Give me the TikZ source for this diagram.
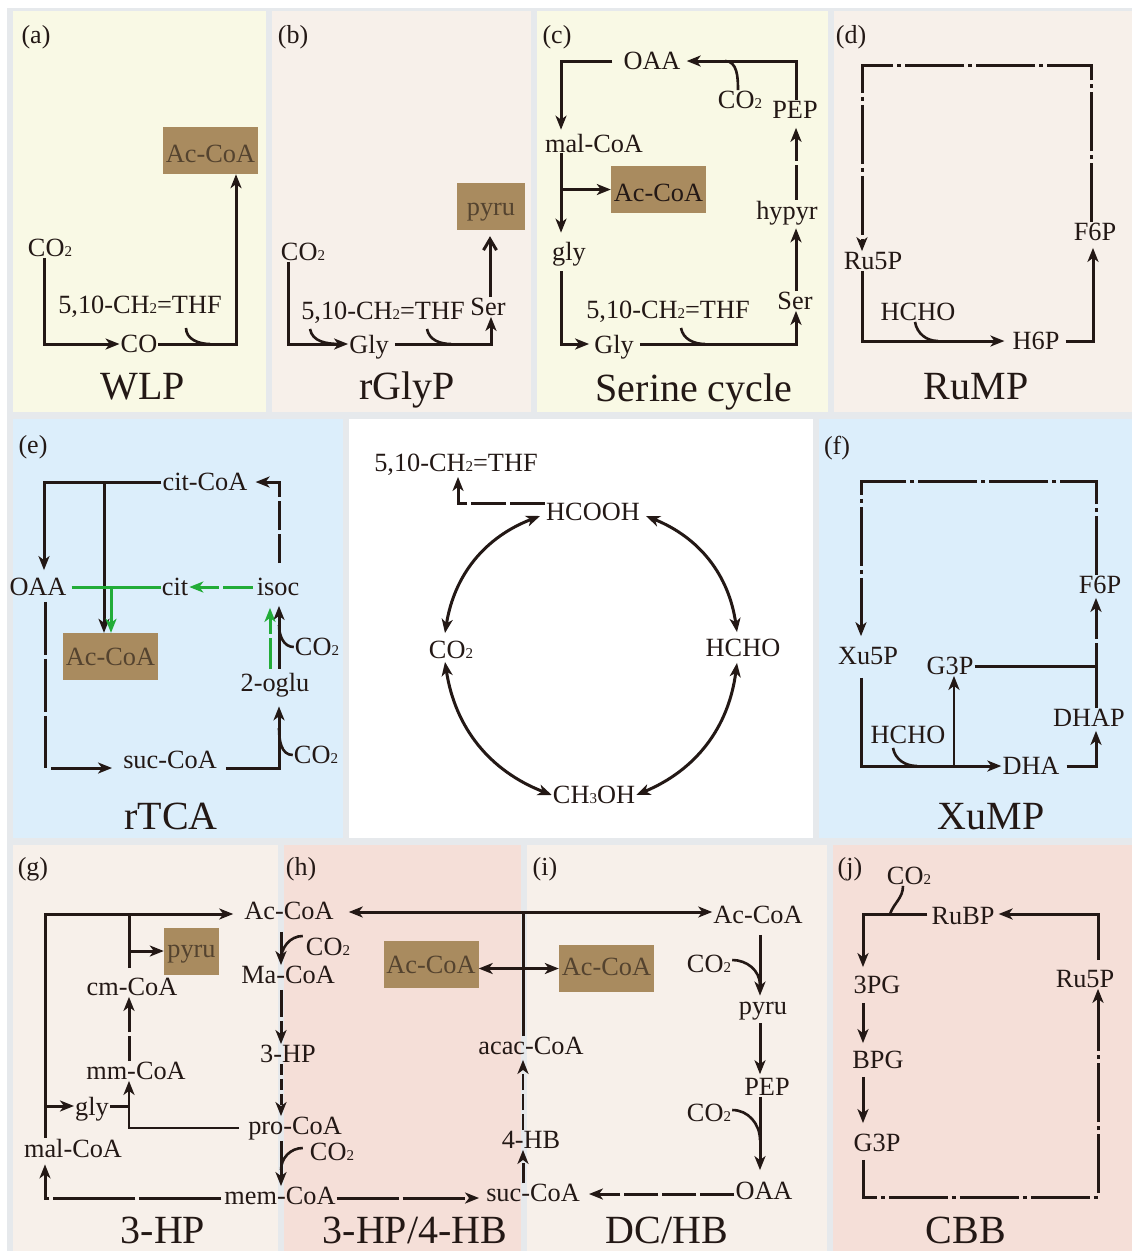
\documentclass[tikz,border=0pt]{standalone}
\usepackage{fontspec}
\setmainfont{Liberation Serif}
\usetikzlibrary{arrows.meta}
\definecolor{ink}{HTML}{231815}
\definecolor{framegrey}{HTML}{E6E9EC}
\definecolor{paleyellow}{HTML}{F9F9E5}
\definecolor{palecream}{HTML}{F7F0EA}
\definecolor{paleblue}{HTML}{DCEEFB}
\definecolor{palerose}{HTML}{F5DFD8}
\definecolor{boxtan}{HTML}{A98B5F}
\definecolor{boxtext}{HTML}{54432F}
\definecolor{greenflow}{HTML}{22AC38}
\newcommand{\subn}[1]{{\fontsize{15}{15}\selectfont #1}}
\tikzset{
	met/.style={inner sep=1pt, text=ink, text depth=0pt, font=\fontsize{26.3}{26.3}\selectfont},
	prod/.style={met, fill=boxtan, text=boxtext, text height=23pt, minimum width=95pt, minimum height=47pt},
	ttl/.style={inner sep=0pt, text=ink, text depth=0pt, font=\fontsize{40}{40}\selectfont},
	tag/.style={inner sep=0pt, text=ink, font=\fontsize{26}{26}\selectfont},
	flow/.style={draw=ink, line width=3pt},
	flowa/.style={flow, ->},
	flowb/.style={flow, <->},
	feed/.style={draw=ink, line width=2.6pt},
	thinflow/.style={flow, line width=2.4pt, ->},
	greena/.style={draw=greenflow, line width=3pt, ->},
	brk/.style={dash pattern=on #1pt off 4pt},
	dotbrk/.style={dash pattern=on 59pt off 4pt on 4pt off 4pt}
}
\begin{document}
\begin{tikzpicture}[
		x=1pt,
		y=-1pt,
		>={Stealth[length=14pt,width=11pt,inset=4pt]}
	]
	\useasboundingbox (0,0) rectangle (1132,1251);

	% ---- panels ----------------------------------------------------
	\fill[framegrey] (7,8) rectangle (1132,1251);
	\foreach \xa/\ya/\xb/\yb/\c in {13/11/266/412/paleyellow,272/11/531/412/palecream,537/11/828/412/paleyellow,834/11/1132/412/palecream,13/419/343/838/paleblue,349/419/813/838/white,819/419/1132/838/paleblue,13/845/278/1251/palecream,284/845/521/1251/palerose,527/845/827/1251/palecream,833/845/1132/1251/palerose} {
			\fill[\c] (\xa,\ya) rectangle (\xb,\yb);
		}
	\foreach \x/\y/\t in {36/37/a,293/37/b,557/37/c,851/37/d,33/447/e,837/448/f,33/869/g,301/869/h,545/869/i,850/869/j} {
			\node[tag] (tag\t) at (\x,\y) {(\t)};
		}
	\foreach \x/\y/\n/\t in {143/386/wlp/WLP,407/386/rgly/rGlyP,694/388/ser/Serine cycle,976/386/rump/RuMP,171/816/rtca/rTCA,991/816/xump/XuMP,163/1230/hp/3-HP,415/1230/hphb/{3-HP/4-HB},667/1230/dchb/{DC/HB},966/1230/cbb/CBB} {
			\node[ttl] (ttl\n) at (\x,\y) {\t};
		}

	% ---- (a) WLP ---------------------------------------------------
	\node[prod] (boxa) at (210.5,150.5) {Ac-CoA};
	\node[met] (co2a) at (50,248) {CO\subn{2}};
	\node[met] (thfa) at (140,305) {5,10-CH\subn{2}=THF};
	\node[met] (coa) at (139,344) {CO};
	\coordinate (a1) at (210,344);
	\draw[flowa] ([xshift=-6pt]co2a.south) |- (coa.west);
	\draw[flowa] (coa.east) -| ([xshift=25.5pt]boxa.south);
	\draw[feed] ([shift={(46pt,-13pt)}]thfa.south) to[out=-90,in=180] (a1);

	% ---- (b) rGlyP -------------------------------------------------
	\node[prod, minimum width=68pt, text height=18pt] (boxb) at (491,206.5) {pyru};
	\node[met] (co2b) at (303,252) {CO\subn{2}};
	\node[met] (thfb) at (383,311) {5,10-CH\subn{2}=THF};
	\node[met] (glyb) at (369,344) {Gly};
	\node[met] (serb) at (488,307) {Ser};
	\coordinate (b1) at (340,344);
	\coordinate (b2) at (451,344);
	\draw[flowa] ([xshift=-15pt]co2b.south) |- (glyb.west);
	\draw[flowa] ([xshift=5pt]glyb.east) -| ([xshift=3pt]serb.south);
	\draw[flow, -{Straight Barb[length=11pt,width=13pt]}] ([xshift=2pt]serb.north) -- ([shift={(-1pt,-6pt)}]boxb.south);
	\draw[feed] ([shift={(-73pt,-8pt)}]thfb.south) to[out=-80,in=180] (b1);
	\draw[feed] ([shift={(44pt,-8pt)}]thfb.south) to[out=-80,in=180] (b2);

	% ---- (c) Serine cycle ------------------------------------------
	\node[prod, text=ink] (boxc) at (658.5,189.5) {Ac-CoA};
	\node[met] (oaac) at (652,61) {OAA};
	\node[met] (malc) at (594,143) {mal-CoA};
	\node[met] (glyc) at (569,251) {gly};
	\node[met] (gly2c) at (614,344) {Gly};
	\node[met] (thfc) at (668,310) {5,10-CH\subn{2}=THF};
	\node[met] (serc) at (795,301) {Ser};
	\node[met] (hypc) at (787,210) {hypyr};
	\node[met] (pepc) at (795,110) {PEP};
	\node[met] (co2c) at (740,100) {CO\subn{2}};
	\coordinate (c1) at (561,189.5);
	\coordinate (c2) at (725,61);
	\coordinate (c3) at (705,344);
	\draw[flowa] ([xshift=-10pt]oaac.west) -| ([shift={(-33pt,3pt)}]malc.north);
	\draw[flowa] ([xshift=-33pt]malc.south) -- ([shift={(-8pt,8pt)}]glyc.north);
	\draw[flowa] (c1) -- (boxc.west);
	\draw[flowa] ([shift={(-8pt,-10pt)}]glyc.south) |- ([xshift=-4pt]gly2c.west);
	\draw[flowa] ([xshift=5pt]gly2c.east) -| ([xshift=1pt]serc.south);
	\draw[flowa] ([xshift=1pt]serc.north) -- ([shift={(9pt,-8pt)}]hypc.south);
	\draw[flowa, brk=35] ([xshift=9pt]hypc.north) -- ([shift={(1pt,-8pt)}]pepc.south);
	\draw[flowa] ([xshift=1pt]pepc.north) |- ([xshift=5pt]oaac.east);
	\draw[feed] ([xshift=-2pt]co2c.north) to[out=90,in=0] (c2);
	\draw[feed] ([shift={(13pt,-8pt)}]thfc.south) to[out=-80,in=180] (c3);

	% ---- (d) RuMP --------------------------------------------------
	\node[met] (ru5d) at (873,261) {Ru5P};
	\node[met] (hchod) at (918,312) {HCHO};
	\node[met] (h6d) at (1036,341) {H6P};
	\node[met] (f6d) at (1095,232) {F6P};
	\coordinate (d1) at (862,65);
	\coordinate (d2) at (938,341);
	\draw[flowa, dotbrk] ([xshift=-4pt]f6d.north) |- (d1) -- ([xshift=-11pt]ru5d.north);
	\draw[flowa] ([xshift=-11pt]ru5d.south) |- ([xshift=-7pt]h6d.west);
	\draw[flowa] ([xshift=5pt]h6d.east) -| ([shift={(-2pt,-6pt)}]f6d.south);
	\draw[feed] ([xshift=-3pt]hchod.south) to[out=-80,in=180] (d2);

	% ---- (e) rTCA --------------------------------------------------
	\node[prod, text height=17pt] (boxe) at (110.5,656.5) {Ac-CoA};
	\node[met] (cite) at (205,482) {cit-CoA};
	\node[met] (oaae) at (38,587) {OAA};
	\node[met] (cit2e) at (175,587) {cit};
	\node[met] (isoe) at (278,587) {isoc};
	\node[met] (oglue) at (275,682) {2-oglu};
	\node[met] (suce) at (170,760) {suc-CoA};
	\node[met] (co2ea) at (317,647) {CO\subn{2}};
	\node[met] (co2eb) at (316,755) {CO\subn{2}};
	\coordinate (e1) at (104,482);
	\coordinate (e2) at (111,587);
	\coordinate (e3) at (45,768);
	\coordinate (e4) at (51,768);
	\coordinate (e5) at (279,625);
	\coordinate (e6) at (279,728);
	\draw[flowa] (cite.west) -| ([shift={(6pt,7pt)}]oaae.north);
	\draw[flowa] (e1) -- ([xshift=-6.5pt]boxe.north);
	\draw[flowa, brk=29] ([shift={(1pt,14pt)}]isoe.north) |- ([xshift=7pt]cite.east);
	\draw[flow, brk=53] ([shift={(7pt,-5pt)}]oaae.south) -- (e3);
	\draw[flowa] (e4) -- ([xshift=-10pt]suce.west |- e4);
	\draw[flowa] ([shift={(8pt,-8pt)}]suce.east) -| ([shift={(4pt,-14pt)}]oglue.south);
	\draw[flowa] ([shift={(4pt,3pt)}]oglue.north) -- ([shift={(1pt,-9pt)}]isoe.south);
	\draw[feed] (co2ea.west) to[out=180,in=-90] (e5);
	\draw[feed] (co2eb.west) to[out=180,in=-90] (e6);
	\draw[greena, -] ([xshift=4pt]oaae.east) -- (cit2e.west);
	\draw[greena] (e2) -- ([xshift=0.5pt]boxe.north);
	\draw[greena, brk=30] ([xshift=-3pt]isoe.west) -- (cit2e.east);
	\draw[greena, brk=31] ([shift={(-5pt,3pt)}]oglue.north) -- ([shift={(-8pt,-11pt)}]isoe.south);

	% ---- centre ----------------------------------------------------
	\node[met] (thfm) at (456,463) {5,10-CH\subn{2}=THF};
	\node[met] (hcoo) at (593,512) {HCOOH};
	\node[met] (co2m) at (451,650) {CO\subn{2}};
	\node[met] (hcho) at (743,648) {HCHO};
	\node[met] (ch3) at (594,795) {CH\subn{3}OH};
	\draw[flowa, brk=35] ([yshift=9pt]hcoo.west) -| ([shift={(2pt,-4pt)}]thfm.south);
	\draw[flowb] ([shift={(-5pt,-4pt)}]hcoo.west) to[bend right=30] ([shift={(-6pt,7pt)}]co2m.north);
	\draw[flowb] ([shift={(5pt,-4pt)}]hcoo.east) to[bend left=30] ([shift={(-6pt,6pt)}]hcho.north);
	\draw[flowb] ([shift={(-6pt,-2pt)}]co2m.south) to[bend right=30] (ch3.west);
	\draw[flowb] ([shift={(-6pt,-5pt)}]hcho.south) to[bend left=30] (ch3.east);

	% ---- (f) XuMP --------------------------------------------------
	\node[met] (xu5f) at (868,656) {Xu5P};
	\node[met] (g3f) at (950,666) {G3P};
	\node[met] (f6f) at (1100,585) {F6P};
	\node[met] (dhapf) at (1089,718) {DHAP};
	\node[met] (dhaf) at (1031,766) {DHA};
	\node[met] (hchof) at (908,735) {HCHO};
	\coordinate (f1) at (954,766);
	\coordinate (f2) at (1096,666);
	\coordinate (f3) at (861,481);
	\coordinate (f4) at (917,766);
	\draw[flowa] ([shift={(-7pt,-12pt)}]xu5f.south) |- (dhaf.west);
	\draw[thinflow] (f1) -- ([xshift=4pt]g3f.south);
	\draw[flowa] ([xshift=6pt]dhaf.east) -| ([shift={(7pt,-3pt)}]dhapf.south);
	\draw[flowa, brk=65] ([xshift=7pt]dhapf.north) -- ([shift={(-4pt,-3pt)}]f6f.south);
	\draw[flow] (g3f.east) -- (f2);
	\draw[flowa, dotbrk] ([xshift=-4pt]f6f.north) |- (f3) -- ([shift={(-7pt,10pt)}]xu5f.north);
	\draw[feed] ([shift={(-15pt,-3pt)}]hchof.south) to[out=-80,in=180] (f4);

	% ---- (g) 3-HP and (h) 3-HP/4-HB --------------------------------
	\node[prod, minimum width=55pt, text height=13pt] (boxg) at (191.5,951) {pyru};
	\node[prod, text height=17pt] (boxh) at (431,964.5) {Ac-CoA};
	\node[met] (ach) at (289,911) {Ac-CoA};
	\node[met] (mag) at (288,975) {Ma-CoA};
	\node[met] (hp3) at (288,1054) {3-HP};
	\node[met] (pro) at (295,1126) {pro-CoA};
	\node[met] (mem) at (280,1196) {mem-CoA};
	\node[met] (malg) at (73,1148) {mal-CoA};
	\node[met] (glyg) at (92,1106) {gly};
	\node[met] (mmg) at (136,1071) {mm-CoA};
	\node[met] (cmg) at (132,987) {cm-CoA};
	\node[met] (co2ga) at (328,947) {CO\subn{2}};
	\node[met] (co2gb) at (332,1152) {CO\subn{2}};
	\coordinate (g1) at (129,914);
	\coordinate (g2) at (129,951);
	\coordinate (g3) at (45,1106);
	\coordinate (g4) at (129,1106);
	\coordinate (g5) at (281,960);
	\coordinate (g6) at (281,1170);
	\draw[flowa] ([xshift=-28pt]malg.north) |- ([shift={(-10pt,-3pt)}]ach.west);
	\draw[flow] ([shift={(-3pt,9pt)}]cmg.north) -- (g1);
	\draw[flowa] (g2) -- (boxg.west);
	\draw[flowa, brk=25] ([xshift=-7pt]mmg.north) -- ([xshift=-3pt]cmg.south);
	\draw[flowa] (g3) -- (glyg.west);
	\draw[flow] (glyg.east) -- (g4);
	\draw[thinflow] ([shift={(-8pt,-2pt)}]pro.west) -| ([xshift=-7pt]mmg.south);
	\draw[flowa] ([shift={(-8pt,-11pt)}]ach.south) -- ([xshift=-7pt]mag.north);
	\draw[flowa, brk=27] ([shift={(-7pt,-5pt)}]mag.south) -- ([xshift=-7pt]hp3.north);
	\draw[flowa, brk=11] ([xshift=-7pt]hp3.south) -- ([xshift=-14pt]pro.north);
	\draw[flowa] ([shift={(-14pt,-5pt)}]pro.south) -- ([xshift=1pt]mem.north);
	\draw[feed] ([shift={(-2pt,11pt)}]co2ga.west) to[out=180,in=90] (g5);
	\draw[feed] ([shift={(-6pt,4pt)}]co2gb.west) to[out=180,in=90] (g6);
	\draw[flowa, brk=82] ([shift={(-2pt,-2pt)}]mem.west) -| ([shift={(-28pt,-6pt)}]malg.south);

	% ---- (i) DC/HB -------------------------------------------------
	\node[prod, text height=13pt] (boxi) at (606.5,968.5) {Ac-CoA};
	\node[met] (aci) at (758,915) {Ac-CoA};
	\node[met] (pyi) at (763,1008) {pyru};
	\node[met] (pepi) at (767,1087) {PEP};
	\node[met] (oaai) at (764,1191) {OAA};
	\node[met] (suc) at (533,1193) {suc-CoA};
	\node[met] (hb4) at (531,1140) {4-HB};
	\node[met] (acac) at (531,1046) {acac-CoA};
	\node[met] (co2ia) at (709,964) {CO\subn{2}};
	\node[met] (co2ib) at (709,1113) {CO\subn{2}};
	\coordinate (h1) at (523,912);
	\coordinate (i1) at (760,985);
	\coordinate (i2) at (760,1140);
	\draw[flowa, brk=62] ([yshift=-2pt]mem.east) -- ([shift={(-6pt,-5pt)}]suc.west);
	\draw[flowb] ([shift={(14pt,-1pt)}]ach.east) -- ([yshift=3pt]aci.west);
	\draw[flowb] ([yshift=-4pt]boxh.east) -- (boxi.west);
	\draw[flow] ([xshift=-8pt]acac.north) -- (h1);
	\draw[flowa, brk=20] ([xshift=-10pt]suc.north) -- ([xshift=-8pt]hb4.south);
	\draw[thinflow, brk=16] ([xshift=-8pt]hb4.north) -- ([shift={(-8pt,-4pt)}]acac.south);
	\draw[flowa, brk=34] ([yshift=-3pt]oaai.west) -- ([shift={(8pt,-1pt)}]suc.east);
	\draw[flowa] ([shift={(2pt,-10pt)}]aci.south) -- ([shift={(-3pt,5pt)}]pyi.north);
	\draw[flowa] ([shift={(-3pt,-8pt)}]pyi.south) -- ([shift={(-7pt,3pt)}]pepi.north);
	\draw[flowa] ([xshift=-7pt]pepi.south) -- ([shift={(-4pt,11pt)}]oaai.north);
	\draw[feed] ([yshift=4pt]co2ia.east) to[out=0,in=90] (i1);
	\draw[feed] ([yshift=3pt]co2ib.east) to[out=0,in=90] (i2);

	% ---- (j) CBB ---------------------------------------------------
	\node[met] (co2j) at (909,876) {CO\subn{2}};
	\node[met] (rubp) at (963,916) {RuBP};
	\node[met] (pg3) at (877,985) {3PG};
	\node[met] (bpg) at (878,1060) {BPG};
	\node[met] (g3j) at (877,1143) {G3P};
	\node[met] (ru5j) at (1085,979) {Ru5P};
	\coordinate (j1) at (1098,1197);
	\coordinate (j2) at (890,914);
	\draw[flowa] ([shift={(-3pt,2pt)}]rubp.west) -| ([shift={(-14pt,8pt)}]pg3.north);
	\draw[flowa] ([shift={(-14pt,-8pt)}]pg3.south) -- ([shift={(-15pt,7pt)}]bpg.north);
	\draw[flowa] ([shift={(-15pt,-7pt)}]bpg.south) -- ([shift={(-14pt,10pt)}]g3j.north);
	\draw[flowa, dotbrk, dash phase=8pt] ([shift={(-14pt,-7pt)}]g3j.south) |- (j1) -- ([xshift=13pt]ru5j.south);
	\draw[flowa] ([shift={(13pt,9pt)}]ru5j.north) |- ([shift={(3pt,2pt)}]rubp.east);
	\draw[feed] ([xshift=-6pt]co2j.south) to[out=-90,in=70] (j2);
\end{tikzpicture}
\end{document}
